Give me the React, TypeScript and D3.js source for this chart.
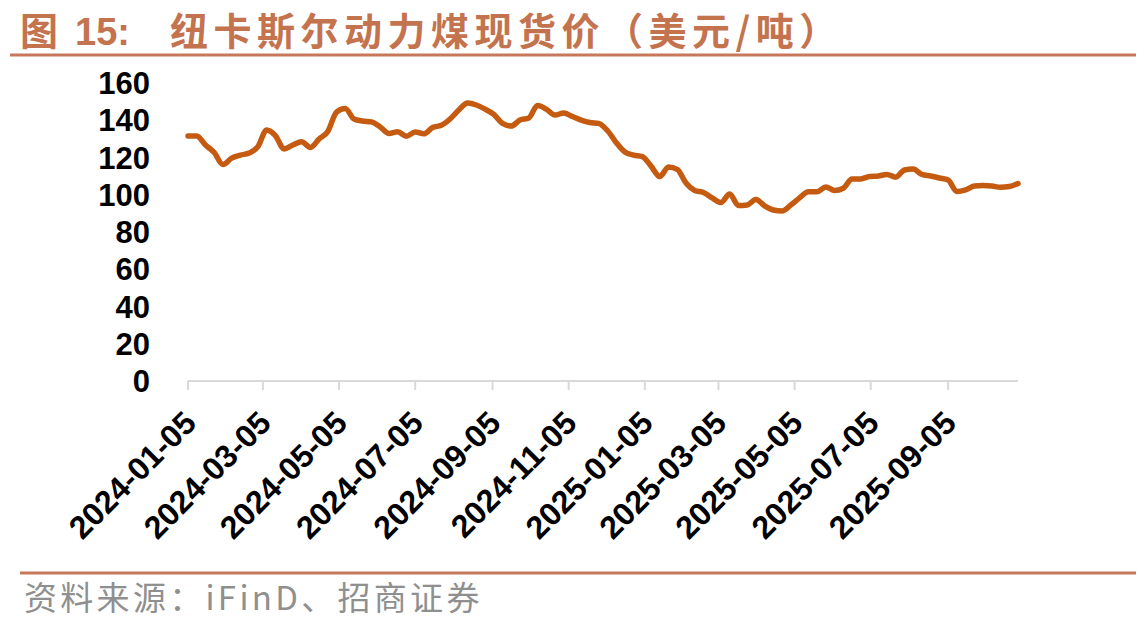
import React from "react";
import * as d3 from "d3";

// weekly spot price, USD/t, starting 2024-01-05
const startDate = "2024-01-05";
const prices = [
  131.5, 131.5, 126.7, 122.7, 116.2, 119.7, 121.3, 122.4, 125.8, 134.8,
  131.8, 124.6, 126.7, 128.5, 125.4, 129.9, 134.0, 144.4, 146.3, 140.7,
  139.6, 139.1, 136.4, 132.9, 133.8, 131.4, 133.7, 132.7, 136.1, 137.3,
  140.7, 145.5, 149.3, 148.2, 146.0, 143.1, 138.3, 136.9, 140.1, 141.2,
  147.9, 146.0, 142.8, 143.9, 142.0, 140.1, 138.8, 138.3, 134.5, 128.1,
  123.0, 121.3, 120.5, 115.4, 109.8, 114.9, 113.6, 106.3, 102.3, 101.2,
  98.3, 95.8, 100.4, 94.2, 94.5, 97.4, 94.0, 91.8, 91.3, 94.5,
  98.3, 101.6, 101.6, 104.2, 102.3, 103.5, 108.5, 108.5, 109.8, 110.1,
  110.9, 109.4, 113.3, 113.8, 110.9, 110.1, 109.0, 107.9, 101.7, 102.6,
  104.7, 105.0, 104.7, 104.0, 104.4, 106.0,
];

const xTickLabels = [
  "2024-01-05", "2024-03-05", "2024-05-05", "2024-07-05", "2024-09-05",
  "2024-11-05", "2025-01-05", "2025-03-05", "2025-05-05", "2025-07-05",
  "2025-09-05",
];
const yTicks = [0, 20, 40, 60, 80, 100, 120, 140, 160];

const titlePrefix = "图";
const titleNumber = "15:";
const titleText = "纽卡斯尔动力煤现货价（美元/吨）";
const sourceText = "资料来源：iFinD、招商证券";

const W = 1148;
const H = 631;
const accent = "#C4734F";

export default function App() {
  const parse = d3.utcParse("%Y-%m-%d");
  const t0 = parse(startDate) as Date;
  const data = prices.map((v, i) => ({
    date: d3.utcDay.offset(t0, i * 7),
    value: v,
  }));

  const x = d3
    .scaleUtc()
    .domain([t0, data[data.length - 1].date])
    .range([188, 1018]);
  const y = d3.scaleLinear().domain([0, 160]).range([381, 83]);

  const line = d3
    .line<{ date: Date; value: number }>()
    .x((d) => x(d.date))
    .y((d) => y(d.value))
    .curve(d3.curveMonotoneX);

  const labelFont = "'Liberation Sans', Arial, sans-serif";
  const cjkFont = "'Noto Sans CJK SC', sans-serif";

  return (
    <svg
      width={W}
      height={H}
      style={{ position: "absolute", left: 0, top: 0, background: "#fff" }}
    >
      {/* title */}
      <text y={45} fill={accent} fontWeight={700} fontSize={38}>
        <tspan x={20} fontFamily={cjkFont}>{titlePrefix}</tspan>
        <tspan x={75} fontFamily={labelFont}>{titleNumber}</tspan>
        <tspan x={170} fontFamily={cjkFont} letterSpacing={5.5}>
          {titleText}
        </tspan>
      </text>
      <line x1={10} x2={1136} y1={55} y2={55} stroke="#C8785A" strokeWidth={3} />

      {/* y labels */}
      {yTicks.map((t) => (
        <text
          key={t}
          x={150}
          y={y(t)}
          dy="0.36em"
          textAnchor="end"
          fontFamily={labelFont}
          fontWeight={700}
          fontSize={31}
          fill="#000"
        >
          {t}
        </text>
      ))}

      {/* x axis */}
      <line
        x1={x.range()[0]}
        x2={x.range()[1]}
        y1={y(0)}
        y2={y(0)}
        stroke="#d9d9d9"
        strokeWidth={2}
      />
      {xTickLabels.map((s) => {
        const tx = x(parse(s) as Date);
        return (
          <g key={s}>
            <line x1={tx} x2={tx} y1={y(0)} y2={y(0) + 9} stroke="#d9d9d9" strokeWidth={2} />
            <text
              transform={`translate(${tx + 10},${y(0) + 44}) rotate(-45)`}
              textAnchor="end"
              fontFamily={labelFont}
              fontWeight={700}
              fontSize={32}
              fill="#000"
            >
              {s}
            </text>
          </g>
        );
      })}

      {/* price line */}
      <path
        d={line(data) || ""}
        fill="none"
        stroke="#C55A11"
        strokeWidth={5.5}
        strokeLinejoin="round"
        strokeLinecap="round"
      />

      {/* source */}
      <line x1={20} x2={1136} y1={573} y2={573} stroke="#C8785A" strokeWidth={3} />
      <text
        x={24}
        y={610}
        fill="#8f8f8f"
        fontFamily={cjkFont}
        fontSize={33}
        letterSpacing={3.3}
      >
        {sourceText}
      </text>
    </svg>
  );
}
